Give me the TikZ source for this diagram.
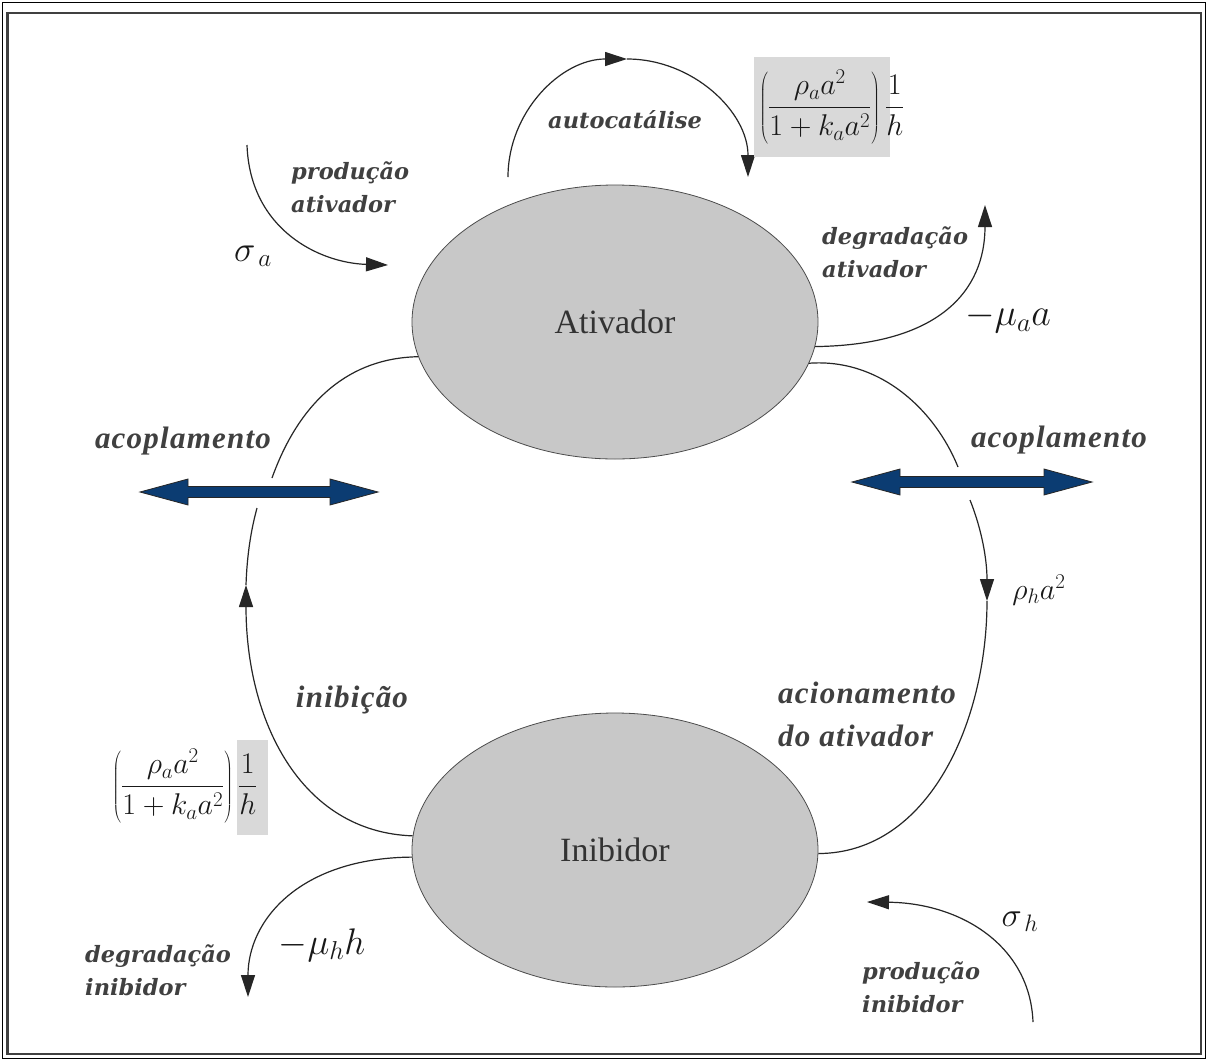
\RequirePackage{fix-cm}
\documentclass[tikz,border=0pt]{standalone}
\usepackage{fontspec}
\setmainfont{Liberation Serif}
\newfontfamily\lblfont{DejaVu Serif}
\newfontfamily\labBfont{Liberation Serif}[LetterSpace=4]
\usetikzlibrary{arrows.meta,shapes.geometric}
\definecolor{navy}{HTML}{0B3C72}
\definecolor{lblcol}{HTML}{404040}
\definecolor{ellfill}{HTML}{C8C8C8}
\definecolor{boxgray}{HTML}{D9D9D9}
\newcommand\dblarr[3]{%
  \filldraw[fill=navy, draw=black!85, line width=0.8pt]
    (#1,#3) -- (#1+48,#3-13) -- (#1+48,#3-5.5) -- (#2-48,#3-5.5) -- (#2-48,#3-13)
    -- (#2,#3) -- (#2-48,#3+13) -- (#2-48,#3+5.5) -- (#1+48,#3+5.5) -- (#1+48,#3+13) -- cycle;}
\begin{document}
\begin{tikzpicture}[x=1pt,y=-1pt,
  ell/.style={ellipse, minimum width=406pt, minimum height=274pt, draw=black!70, line width=0.8pt,
              fill=ellfill, font=\fontsize{34}{40}\selectfont, text=black!80},
  conn/.style={line width=1.2pt, draw=black!85},
  arr/.style={-{Triangle[length=22pt,width=14pt]}},
  lab/.style={font=\lblfont\bfseries\itshape\fontsize{22.5}{33}\selectfont, text=lblcol, align=left, inner sep=0pt},
  labs/.style={font=\labBfont\bfseries\itshape\fontsize{31}{43}\selectfont, text=lblcol, align=left, inner sep=0pt},
  mth/.style={inner sep=0pt, text=black!90}]
\useasboundingbox (0,0) rectangle (1208,1061);
\fill[white] (0,0) rectangle (1208,1061);
% frame
\draw[line width=1.5pt, black] (2.5,2.5) rectangle (1205.5,1058.5);
\draw[line width=2.5pt, black!75] (7.5,13) rectangle (1201,1054);

% main nodes
\node[ell] (ativ) at (615,322) {Ativador};
\node[ell] (inib) at (615,850) {Inibidor};

% named free ends
\coordinate (L1) at (246,585);
\coordinate (L2) at (257,508);
\coordinate (L3) at (272,478);
\coordinate (R1) at (958,467);
\coordinate (R2) at (970,500);
\coordinate (R3) at (987,601);
\coordinate (DA) at (985,205);
\coordinate (PA0) at (247,145);
\coordinate (PA1) at (388,265);
\coordinate (DI) at (248,997);
\coordinate (PI0) at (1033,1022);
\coordinate (PI1) at (867,902);
\coordinate (AC0) at (508,177);
\coordinate (AC1) at (627,59);
\coordinate (AC2) at (748,177);

% left loop (inibicao)
\draw[conn,arr] (inib.176) .. controls (300,832) and (246,720) .. (L1);
\draw[conn] (L1) .. controls (247,555) and (251,530) .. (L2);
\draw[conn] (L3) .. controls (300,400) and (350,358) .. (ativ.190);
% right loop (acionamento)
\draw[conn] (ativ.348) .. controls (880,358) and (935,410) .. (R1);
\draw[conn,arr] (R2) .. controls (982,530) and (987,560) .. (R3);
\draw[conn] (R3) .. controls (987,720) and (930,853) .. (inib.359);
% degradacao ativador
\draw[conn,arr] (ativ.353) .. controls (940,345) and (985,290) .. (DA);
% producao ativador
\draw[conn,arr] (PA0) .. controls (250,230) and (320,263) .. (PA1);
% degradacao inibidor
\draw[conn,arr] (inib.182) .. controls (300,858) and (248,920) .. (DI);
% producao inibidor
\draw[conn,arr] (PI0) .. controls (1030,945) and (960,903) .. (PI1);
% autocatalise
\draw[conn,arr] (AC0) .. controls (508,112) and (561,59) .. (AC1);
\draw[conn,arr] (AC1) .. controls (693,59) and (748,112) .. (AC2);

% coupling arrows
\dblarr{140}{378}{492}
\dblarr{852}{1092}{482}

% labels
\node[lab, anchor=center] (tAC) at (625,120) {autocatálise};
\node[lab, anchor=west] (tPA) at (291,187) {produção\\ativador};
\node[lab, anchor=west] (tDA) at (822,252) {degradação\\ativador};
\node[labs, anchor=center] (tCL) at (183,441) {acoplamento};
\node[labs, anchor=center] (tCR) at (1059,440) {acoplamento};
\node[labs, anchor=center] (tIN) at (352,700) {inibição};
\node[labs, anchor=west] (tAD) at (778,714) {acionamento\\do ativador};
\node[lab, anchor=west] (tDI) at (85,970) {degradação\\inibidor};
\node[lab, anchor=west] (tPI) at (862,987) {produção\\inibidor};

% math labels
\node[mth, font=\fontsize{36}{40}\selectfont] (mSa) at (253,256) {$\sigma_{\,a}$};
\node[mth, font=\fontsize{38}{42}\selectfont] (mMa) at (1008,318) {$-\mu_a a$};
\node[mth, font=\fontsize{30}{34}\selectfont] (mRh) at (1039,590) {$\rho_h a^2$};
\node[mth, font=\fontsize{37}{41}\selectfont] (mMh) at (322,945) {$-\mu_h h$};
\node[mth, font=\fontsize{34}{38}\selectfont] (mSh) at (1020,922) {$\sigma_{\,h}$};

% formula top
\fill[boxgray] (754,57) rectangle (890,157);
\node[mth, font=\fontsize{30}{34}\selectfont] (fTop) at (832,107)
  {$\displaystyle\left(\frac{\rho_a a^2}{1+k_a a^2}\right)\frac{1}{h}$};
% formula bottom-left
\fill[boxgray] (237,740) rectangle (268,835);
\node[mth, font=\fontsize{30}{34}\selectfont] (fBot) at (185,786)
  {$\displaystyle\left(\frac{\rho_a a^2}{1+k_a a^2}\right)\frac{1}{h}$};
\end{tikzpicture}
\end{document}
